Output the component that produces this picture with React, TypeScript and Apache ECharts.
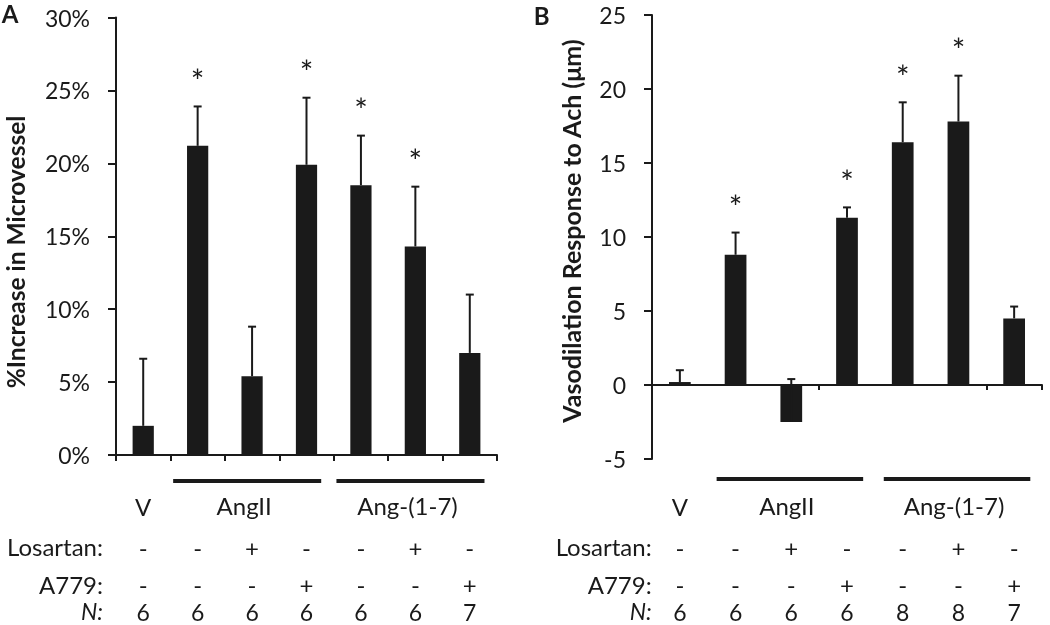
import React, { useEffect, useRef } from 'react';
import * as echarts from 'echarts';

// ---- data ----
const categories = ['V', 'AngII', 'AngII+Losartan', 'AngII+A779', 'Ang-(1-7)', 'Ang-(1-7)+Losartan', 'Ang-(1-7)+A779'];
const firstRow = ['V', '', '', '', '', '', ''];
const losartanRow = ['-', '-', '+', '-', '-', '+', '-'];
const a779Row = ['-', '-', '-', '+', '-', '-', '+'];
const nA = [6, 6, 6, 6, 6, 6, 7];
const nB = [6, 6, 6, 6, 8, 8, 7];
const meanA = [2.0, 21.2, 5.4, 19.9, 18.5, 14.3, 7.0];
const errA = [4.6, 2.7, 3.4, 4.6, 3.4, 4.1, 4.0];
const starA = [0, 1, 0, 1, 1, 1, 0];
const meanB = [0.2, 8.8, -2.5, 11.3, 16.4, 17.8, 4.5];
const errB = [0.8, 1.5, 2.9, 0.7, 2.7, 3.1, 0.8];
const starB = [0, 1, 0, 1, 1, 1, 0];
const groupLabels = ['AngII', 'Ang-(1-7)'];
const groupSpans = [[1, 3], [4, 6]];
const rowLabels = ['Losartan:', 'A779:', 'N:'];

const ink = '#1a1a1a';
const FONT = 'Lato';

function makeRich() {
  const base = { fontSize: 24, fontFamily: FONT, color: ink, align: 'center' as const };
  return {
    g: { ...base, lineHeight: 42 },
    s: { ...base, lineHeight: 40 },
    a: { ...base, lineHeight: 35 },
    n: { ...base, fontSize: 23, lineHeight: 19 },
  };
}

function labelFormatter(nArr: number[]) {
  return (_v: string, idx: number) =>
    `{g|${firstRow[idx] || ' '}}\n{s|${losartanRow[idx]}}\n{a|${a779Row[idx]}}\n{n|${nArr[idx]}}`;
}

function errorRender(_params: any, api: any) {
  const i = api.value(0);
  const base = api.coord([i, api.value(1)]);
  const top = api.coord([i, api.value(2)]);
  const children: any[] = [
    { type: 'line', shape: { x1: base[0], y1: base[1], x2: top[0], y2: top[1] }, style: { stroke: ink, lineWidth: 2 } },
    { type: 'line', shape: { x1: top[0] - 4, y1: top[1], x2: top[0] + 4, y2: top[1] }, style: { stroke: ink, lineWidth: 2 } },
  ];
  if (api.value(3)) {
    children.push({
      type: 'text', x: top[0], y: top[1] - 26,
      style: { text: '*', fontSize: 32, fontFamily: FONT, fill: ink, align: 'center', verticalAlign: 'middle' },
    });
  }
  return { type: 'group', children };
}

function groupRender(leftInset: number, rightExt: number, lineOff: number, labelOff: number) {
  return (params: any, api: any) => {
    const yb = api.value(2);
    const s = api.coord([api.value(0), yb]);
    const e = api.coord([api.value(1), yb]);
    const bw = api.size([1, 0])[0];
    const x1 = s[0] - bw * leftInset;
    const x2 = e[0] + bw * rightExt;
    return {
      type: 'group',
      children: [
        { type: 'rect', shape: { x: x1, y: s[1] + lineOff - 2, width: x2 - x1, height: 4 }, style: { fill: ink } },
        {
          type: 'text', x: (x1 + x2) / 2 - 3, y: s[1] + labelOff,
          style: { text: groupLabels[params.dataIndex], fontSize: 24, fontFamily: FONT, fill: ink, align: 'center', verticalAlign: 'middle' },
        },
      ],
    };
  };
}

export default function App() {
  const ref = useRef<HTMLDivElement>(null);
  useEffect(() => {
    if (!ref.current) return;
    const chart = echarts.init(ref.current, undefined, { renderer: 'svg' });
    const axisLine = { show: true, lineStyle: { color: ink, width: 2 } };
    const yLabel = { fontSize: 23, fontFamily: FONT, color: ink, margin: 26 };
    const rowY = [546.7, 584.2, 611];
    const rowText = (x: number) =>
      rowLabels.map((t, k) => ({
        type: 'text', x, y: rowY[k],
        style: {
          text: t, fontSize: t === 'N:' ? 23 : 24, fontFamily: FONT, fill: ink, align: 'right', verticalAlign: 'middle',
          fontStyle: t === 'N:' ? 'italic' : 'normal',
        },
      }));
    chart.setOption({
      animation: false,
      grid: [
        { left: 116, top: 17.5, width: 381, height: 437.5 },
        { left: 652, top: 15, width: 390, height: 444 },
      ],
      xAxis: [
        {
          gridIndex: 0, type: 'category', data: categories,
          axisLine, axisTick: { show: true, length: 6, lineStyle: { color: ink, width: 2 } },
          axisLabel: { interval: 0, margin: 30, formatter: labelFormatter(nA), rich: makeRich() },
        },
        {
          gridIndex: 1, type: 'category', data: categories,
          axisLine: { ...axisLine, onZero: true }, axisTick: { show: true, length: 5, lineStyle: { color: ink, width: 2 } },
          axisLabel: { show: false },
        },
        {
          gridIndex: 1, type: 'category', data: categories, position: 'bottom',
          axisLine: { show: false, onZero: false }, axisTick: { show: false },
          axisLabel: { interval: 0, margin: 26, formatter: labelFormatter(nB), rich: makeRich() },
        },
      ],
      yAxis: [
        {
          gridIndex: 0, type: 'value', min: 0, max: 30, interval: 5,
          axisLine, axisTick: { show: true, length: 8, lineStyle: { color: ink, width: 2 } },
          splitLine: { show: false },
          axisLabel: { ...yLabel, formatter: '{value}%' },
        },
        {
          gridIndex: 1, type: 'value', min: -5, max: 25, interval: 5,
          axisLine, axisTick: { show: true, length: 8, lineStyle: { color: ink, width: 2 } },
          splitLine: { show: false },
          axisLabel: yLabel,
        },
      ],
      series: [
        { type: 'bar', xAxisIndex: 0, yAxisIndex: 0, data: meanA, barWidth: '39%', itemStyle: { color: ink }, z: 2 },
        {
          type: 'custom', xAxisIndex: 0, yAxisIndex: 0, z: 3,
          data: meanA.map((m, i) => [i, m, m + errA[i], starA[i]]),
          encode: { x: 0, y: 2 }, renderItem: errorRender,
        },
        {
          type: 'custom', xAxisIndex: 0, yAxisIndex: 0, z: 3,
          data: groupSpans.map((g) => [g[0], g[1], 0]),
          encode: { x: [0, 1], y: 2 }, renderItem: groupRender(0.45, 0.27, 26, 50.7),
        },
        { type: 'bar', xAxisIndex: 1, yAxisIndex: 1, data: meanB, barWidth: '39%', itemStyle: { color: ink }, z: 2 },
        {
          type: 'custom', xAxisIndex: 1, yAxisIndex: 1, z: 3,
          data: meanB.map((m, i) => [i, m, m + errB[i], starB[i]]),
          encode: { x: 0, y: 2 }, renderItem: errorRender,
        },
        {
          type: 'custom', xAxisIndex: 1, yAxisIndex: 1, z: 3,
          data: groupSpans.map((g) => [g[0], g[1], -5]),
          encode: { x: [0, 1], y: 2 }, renderItem: groupRender(0.34, 0.29, 20, 46.7),
        },
      ],
      graphic: [
        { type: 'text', x: 10, y: 13.3, style: { text: 'A', fontSize: 24, fontWeight: 'bold', fontFamily: FONT, fill: ink, align: 'center', verticalAlign: 'middle' } },
        { type: 'text', x: 541.7, y: 15.8, style: { text: 'B', fontSize: 24, fontWeight: 'bold', fontFamily: FONT, fill: ink, align: 'center', verticalAlign: 'middle' } },
        {
          type: 'text', x: 15, y: 252, rotation: Math.PI / 2,
          style: { text: '%Increase in Microvessel', fontSize: 24.5, fontWeight: 'bold', fontFamily: FONT, fill: ink, align: 'center', verticalAlign: 'middle' },
        },
        {
          type: 'text', x: 570.5, y: 231, rotation: Math.PI / 2,
          style: { text: 'Vasodilation Response to Ach (μm)', fontSize: 25, fontWeight: 'bold', fontFamily: FONT, fill: ink, align: 'center', verticalAlign: 'middle' },
        },
        ...rowText(103),
        ...rowText(651.7),
      ],
    });
    return () => chart.dispose();
  }, []);
  return <div ref={ref} style={{ position: 'fixed', left: 0, top: 0, width: 1050, height: 625 }} />;
}
